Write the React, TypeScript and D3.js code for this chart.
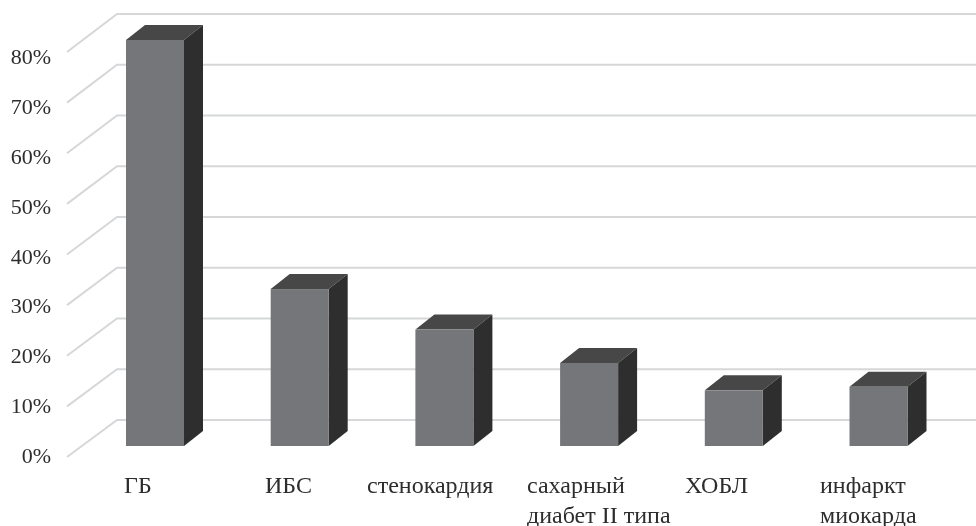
import React from "react";
import * as d3 from "d3";

const categories = ["ГБ", "ИБС", "стенокардия", "сахарный|диабет II типа", "ХОБЛ", "инфаркт|миокарда"];
const values = [80.2, 31, 23, 16.4, 11, 11.7];
const ticks = [0, 10, 20, 30, 40, 50, 60, 70, 80];
const labelX = [124, 265, 367, 527, 685, 820];

const W = 976, H = 526;
const depthX = 19, depthY = 15;
const yBar = d3.scaleLinear().domain([0, 80]).range([446, 41]);
const yBack = d3.scaleLinear().domain([0, 80]).range([420, 14]);
const yFront = d3.scaleLinear().domain([0, 80]).range([457, 52]);
const yLabel = d3.scaleLinear().domain([0, 80]).range([463, 64]);
const barW = 58;
const barStart = d3.scaleLinear().domain([0, 5]).range([126, 849.5]);
const serif = "'Liberation Serif', serif";
const path = d3.line();

export default function App() {
  return (
    <svg width={W} height={H} viewBox={`0 0 ${W} ${H}`} style={{ position: "absolute", left: 0, top: 0, background: "#fff", filter: "blur(0.4px)" }}>
      {ticks.map((t) => (
        <g key={t}>
          <path d={path([[67, yFront(t)], [117, yBack(t)], [976, yBack(t)]])!} fill="none" stroke="#d6d7d8" strokeWidth={2} />
          <text x={51} y={yLabel(t)} textAnchor="end" fontFamily={serif} fontSize={22} fill="#2e2c2d">{t}%</text>
        </g>
      ))}
      {values.map((v, i) => {
        const x0 = barStart(i), x1 = x0 + barW, top = yBar(v), base = yBar(0);
        return (
          <g key={i}>
            <path d={path([[x0, top], [x1, top], [x1 + depthX, top - depthY], [x0 + depthX, top - depthY]])! + "Z"} fill="#474748" />
            <path d={path([[x1, top], [x1 + depthX, top - depthY], [x1 + depthX, base - depthY], [x1, base]])! + "Z"} fill="#2f2e2f" />
            <rect x={x0} y={top} width={barW} height={base - top} fill="#757679" />
          </g>
        );
      })}
      {categories.map((c, i) => c.split("|").map((line, j) => (
        <text key={`${i}-${j}`} x={labelX[i]} y={493 + j * 29.5} fontFamily={serif} fontSize={24} fill="#2e2c2d">{line}</text>
      )))}
    </svg>
  );
}
